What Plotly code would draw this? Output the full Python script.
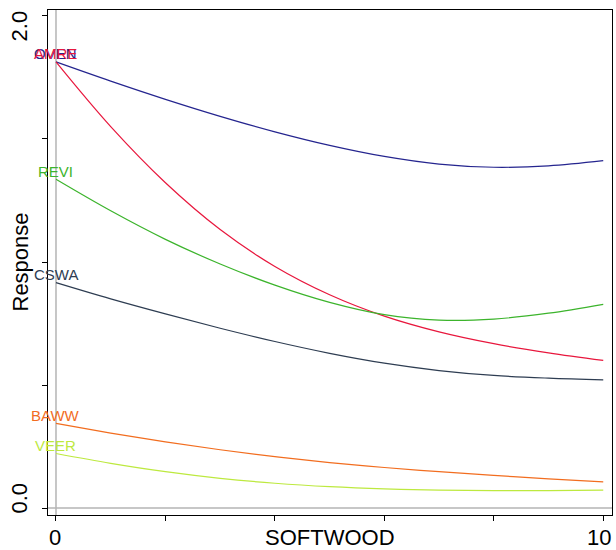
import plotly.graph_objects as go

# Fitted response of each species along the softwood gradient
softwood = [0, 1, 2, 3, 4, 5, 6, 7, 8, 9, 10]

oven = [1.813, 1.735, 1.661, 1.592, 1.529, 1.474, 1.429, 1.398, 1.385, 1.391, 1.412]
amre = [1.813, 1.550, 1.322, 1.132, 0.982, 0.867, 0.780, 0.716, 0.668, 0.631, 0.600]
revi = [1.336, 1.208, 1.092, 0.992, 0.906, 0.836, 0.786, 0.764, 0.768, 0.792, 0.828]
cswa = [0.916, 0.850, 0.789, 0.731, 0.677, 0.629, 0.589, 0.559, 0.539, 0.528, 0.521]
baww = [0.344, 0.305, 0.269, 0.237, 0.209, 0.185, 0.165, 0.148, 0.133, 0.119, 0.107]
veer = [0.222, 0.182, 0.148, 0.121, 0.101, 0.087, 0.078, 0.073, 0.071, 0.071, 0.073]

species = ["OVEN", "AMRE", "REVI", "CSWA", "BAWW", "VEER"]
responses = [oven, amre, revi, cswa, baww, veer]
colors = ["#25258f", "#e8173d", "#3cb42c", "#2e3d52", "#f26d1f", "#bde93f"]

x_ticks = [0, 2, 4, 6, 8, 10]
x_tick_text = ["0", "", "", "", "", "10"]
y_ticks = [0.0, 0.5, 1.0, 1.5, 2.0]
y_tick_text = ["0.0", "", "", "", "2.0"]

FONT = "Liberation Sans, Arial, sans-serif"

fig = go.Figure()

for name, vals, col in zip(species, responses, colors):
    fig.add_trace(go.Scatter(
        x=softwood, y=vals, mode="lines", name=name,
        line=dict(color=col, width=1.2, shape="spline", smoothing=1.0),
        showlegend=False, hoverinfo="skip",
    ))

annotations = []
# species names just above each curve's starting point
for name, vals, col in zip(species, responses, colors):
    annotations.append(dict(
        x=softwood[0], y=vals[0], xref="x", yref="y", text=name,
        showarrow=False, xanchor="center", yanchor="middle", yshift=8,
        font=dict(family=FONT, size=15, color=col),
    ))

# x tick labels
for v, t in zip(x_ticks, x_tick_text):
    if t:
        annotations.append(dict(
            x=v, y=0, xref="x", yref="paper", text=t, showarrow=False,
            xanchor="center", yanchor="top", yshift=-8,
            xshift=(-4 if v == 10 else -1),
            font=dict(family=FONT, size=22, color="black"),
        ))

# y tick labels, rotated
for v, t in zip(y_ticks, y_tick_text):
    if t:
        annotations.append(dict(
            x=0, y=v, xref="paper", yref="y", text=t, showarrow=False,
            textangle=-90, xanchor="right", yanchor="middle", xshift=-14,
            yshift=(-10 if v == 2.0 else 10),
            font=dict(family=FONT, size=22, color="black"),
        ))

annotations.append(dict(
    x=0.5, y=0, xref="paper", yref="paper", text="SOFTWOOD", showarrow=False,
    xanchor="center", yanchor="top", yshift=-8,
    font=dict(family=FONT, size=22, color="black"),
))
annotations.append(dict(
    x=0, y=0.5, xref="paper", yref="paper", text="Response", showarrow=False,
    textangle=-90, xanchor="center", yanchor="middle", xshift=-28,
    font=dict(family=FONT, size=22, color="black"),
))

shapes = [
    dict(type="line", xref="x", yref="paper", x0=0, x1=0, y0=0, y1=1,
         line=dict(color="#b4b4b4", width=1.5), layer="below"),
    dict(type="line", xref="paper", yref="y", x0=0, x1=1, y0=0, y1=0,
         line=dict(color="#b4b4b4", width=1.5), layer="below"),
]

fig.update_layout(
    width=616, height=550,
    margin=dict(l=48, r=4, t=10, b=35),
    paper_bgcolor="white", plot_bgcolor="white",
    annotations=annotations, shapes=shapes,
    font=dict(family=FONT, color="black"),
)
fig.update_xaxes(
    range=[-0.146, 10.16], tickvals=x_ticks, ticktext=["" for _ in x_ticks],
    ticks="outside", ticklen=5, tickcolor="black", tickwidth=1,
    showline=True, linecolor="black", linewidth=1, mirror=True,
    showgrid=False, zeroline=False,
)
fig.update_yaxes(
    range=[-0.028, 2.024], tickvals=y_ticks, ticktext=["" for _ in y_ticks],
    ticks="outside", ticklen=5, tickcolor="black", tickwidth=1,
    showline=True, linecolor="black", linewidth=1, mirror=True,
    showgrid=False, zeroline=False,
)

fig.write_html("out.html")
